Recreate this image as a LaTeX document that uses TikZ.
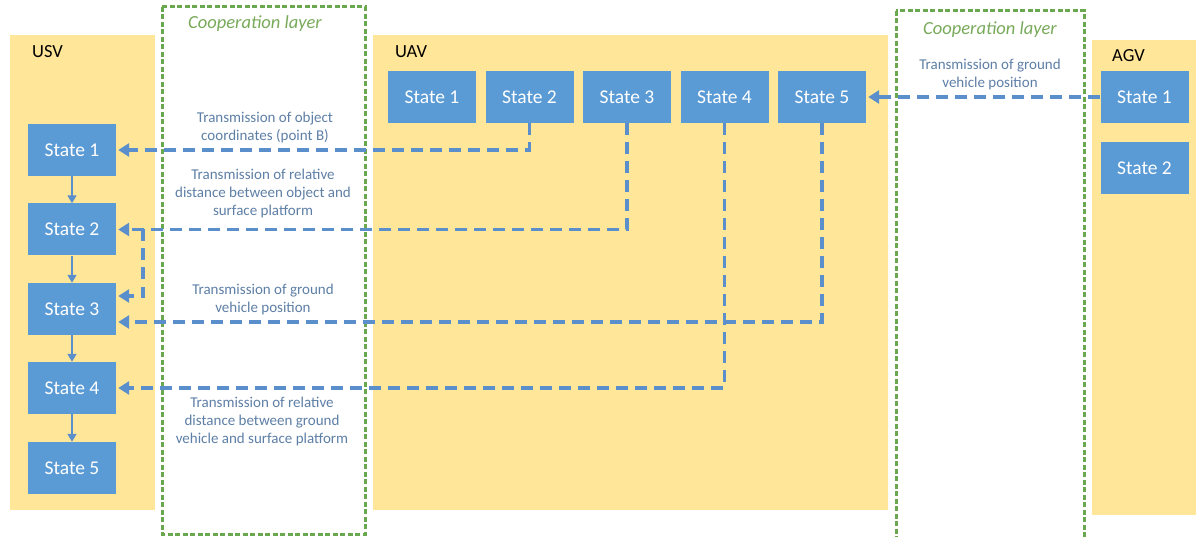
\documentclass[tikz,border=0pt]{standalone}
\usepackage{fontspec}
\setmainfont{Carlito}
\usetikzlibrary{arrows.meta}
\definecolor{panel}{HTML}{FFE699}
\definecolor{stbox}{HTML}{5B9BD5}
\definecolor{conncol}{HTML}{5B8FCB}
\definecolor{ltxt}{HTML}{5E7FA6}
\definecolor{coop}{HTML}{6AA84F}
\definecolor{cooptxt}{HTML}{78AA5A}
\tikzset{
  panelbox/.style={fill=panel, draw=none},
  stbox/.style={fill=stbox, minimum width=88pt, minimum height=52pt, text=white, font=\fontsize{19.5}{22}\selectfont, inner sep=0pt},
  coopbox/.style={draw=coop, line width=3pt, dash pattern=on 5pt off 2.5pt, fill=white},
  dconn/.style={draw=conncol, line width=3.2pt, dash pattern=on 12pt off 7pt, -{Triangle[length=11pt,width=13pt]}},
  sconn/.style={draw=conncol, line width=1.6pt, -{Triangle[length=8pt,width=9pt]}},
  lbl/.style={text=ltxt, font=\fontsize{15}{18}\selectfont, align=center, inner sep=0pt},
  ttl/.style={font=\fontsize{18.5}{20}\selectfont, anchor=west, inner sep=0pt},
  cooptitle/.style={text=cooptxt, font=\fontsize{18.5}{20}\selectfont\itshape, inner sep=0pt}
}
\begin{document}
\begin{tikzpicture}[x=1pt,y=-1pt]
\useasboundingbox (0,0) rectangle (1196,537);
% panels
\fill[panelbox] (10,35) rectangle (155,510);
\fill[panelbox] (373,35) rectangle (888,510);
\fill[panelbox] (1092,40) rectangle (1196,515);
% cooperation layers
\draw[coopbox] (162,7) rectangle (365,534);
\draw[coopbox] (896,11) rectangle (1084,540);
\node[cooptitle] (ct1) at (255,24) {Cooperation layer};
\node[cooptitle] (ct2) at (990,30) {Cooperation layer};
% titles
\node[ttl] (tusv) at (32,52) {USV};
\node[ttl] (tuav) at (395,52) {UAV};
\node[ttl] (tagv) at (1112,56) {AGV};
% USV states
\node[stbox] (s1) at (72,150) {State 1};
\node[stbox] (s2) at (72,229.5) {State 2};
\node[stbox] (s3) at (72,309) {State 3};
\node[stbox] (s4) at (72,388) {State 4};
\node[stbox] (s5) at (72,468) {State 5};
% UAV states
\node[stbox] (u1) at (432,97) {State 1};
\node[stbox] (u2) at (529.5,97) {State 2};
\node[stbox] (u3) at (627,97) {State 3};
\node[stbox] (u4) at (724.5,97) {State 4};
\node[stbox] (u5) at (822,97) {State 5};
% AGV states
\node[stbox] (a1) at (1144.5,97) {State 1};
\node[stbox] (a2) at (1144.5,168) {State 2};
% labels
\node[lbl] (l1) at (265,128) {Transmission of object\\coordinates (point B)};
\node[lbl] (l2) at (263,194) {Transmission of relative\\distance between object and\\surface platform};
\node[lbl] (l3) at (263,300) {Transmission of ground\\vehicle position};
\node[lbl] (l4) at (262,421) {Transmission of relative\\distance between ground\\vehicle and surface platform};
\node[lbl] (l5) at (990,75) {Transmission of ground\\vehicle position};
% solid arrows in USV
\draw[sconn] (s1) -- (s2);
\draw[sconn] (s2) -- (s3);
\draw[sconn] (s3) -- (s4);
\draw[sconn] (s4) -- (s5);
% dashed connectors
\coordinate (y296) at (0,296);
\coordinate (y322) at (0,322);
\coordinate (br) at (143,229.5);
\coordinate (bb) at (143,296);
\draw[dconn] (u2.south) |- ([xshift=2pt]s1.east);
\draw[dconn] (u3.south) |- ([xshift=2pt]s2.east);
\draw[dconn] (br) -- (bb) -- ([xshift=2pt]s3.east |- y296);
\draw[dconn] (u5.south) |- ([xshift=2pt]s3.east |- y322);
\draw[dconn] (u4.south) |- ([xshift=2pt]s4.east);
\draw[dconn] (a1.west) -- ([xshift=2pt]u5.east);
\end{tikzpicture}
\end{document}
